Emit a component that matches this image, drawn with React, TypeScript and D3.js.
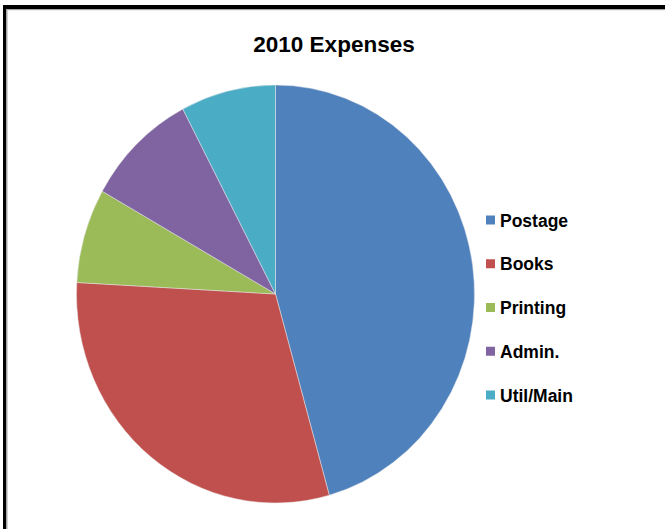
import * as d3 from "d3";
import * as React from "react";

const categories = ["Postage", "Books", "Printing", "Admin.", "Util/Main"];
const values = [45.6, 30.2, 7.3, 9.1, 7.7];
const colors = ["#4F81BD", "#C0504D", "#9BBB59", "#8064A2", "#4BACC6"];

const W = 665;
const H = 529;

const App: React.FC = () => {
  // pie geometry (source picture is slightly squashed horizontally)
  const cx = 275.5;
  const cy = 294;
  const r = 209;
  const sx = 199 / 209;

  const pie = d3
    .pie<number>()
    .sort(null)
    .value((d) => d);
  const arcs = pie(values);
  const arc = d3.arc<d3.PieArcDatum<number>>().innerRadius(0).outerRadius(r);

  const legend = d3
    .scalePoint<string>()
    .domain(categories)
    .range([220, 395]);

  return (
    <div style={{ position: "fixed", left: 0, top: 0 }}>
      <svg width={W} height={H} style={{ display: "block", background: "#fff" }}>
        {/* frame */}
        <rect x={3} y={5} width={W} height={4} fill="#000" />
        <rect x={3} y={5} width={3} height={H} fill="#000" />
        <rect x={6} y={9} width={W} height={1.2} fill="#a6a6a6" />
        <rect x={6} y={9} width={1.5} height={H} fill="#a6a6a6" />

        <text
          x={334}
          y={52}
          textAnchor="middle"
          fontFamily="Liberation Sans, Arial, sans-serif"
          fontWeight="bold"
          fontSize={22.5}
          fill="#000"
        >
          2010 Expenses
        </text>

        <g transform={`translate(${cx},${cy}) scale(${sx},1)`}>
          {arcs.map((a, i) => (
            <path
              key={categories[i]}
              d={arc(a) || ""}
              fill={colors[i]}
              stroke="#e8e8e8"
              strokeWidth={0.5}
            />
          ))}
        </g>

        <g fontFamily="Liberation Sans, Arial, sans-serif" fontSize={17.5} fill="#000">
          {categories.map((c, i) => (
            <g key={c} transform={`translate(486,${legend(c)})`}>
              <rect x={0} y={-4.5} width={9} height={9} fill={colors[i]} />
              <text x={14} y={6.5} fontWeight="bold">
                {c}
              </text>
            </g>
          ))}
        </g>
      </svg>
    </div>
  );
};

export default App;
